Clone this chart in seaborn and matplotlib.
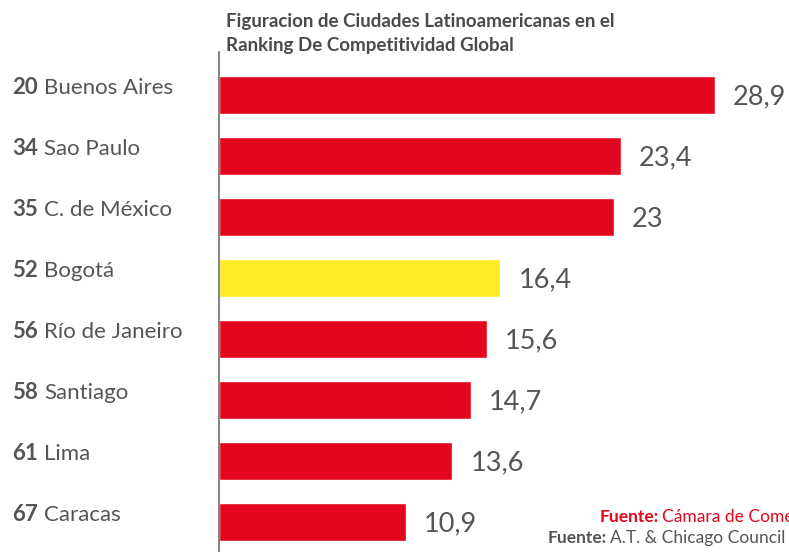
import matplotlib
matplotlib.use('Agg')
import matplotlib.pyplot as plt
import matplotlib.transforms as mtransforms
import seaborn as sns
import pandas as pd

# datos
ranking = [20, 34, 35, 52, 56, 58, 61, 67]
ciudades = ['Buenos Aires', 'Sao Paulo', 'C. de México', 'Bogotá',
            'Río de Janeiro', 'Santiago', 'Lima', 'Caracas']
valores = [28.9, 23.4, 23, 16.4, 15.6, 14.7, 13.6, 10.9]

rojo = '#E2061F'
amarillo = '#FFEC24'
gris_texto = '#555555'
gris_titulo = '#4A4A4A'
gris_linea = '#6E6E6E'
colores = [amarillo if c == 'Bogotá' else rojo for c in ciudades]

sns.set_theme(style='white')
plt.rcParams['font.family'] = ['Lato', 'DejaVu Sans']

df = pd.DataFrame({'ciudad': ciudades, 'valor': valores})

fig = plt.figure(figsize=(7.89, 5.52), dpi=100)
ax = fig.add_axes([219 / 789, 0, 1 - 219 / 789, 500 / 552])

sns.barplot(data=df, x='valor', y='ciudad', hue='ciudad', palette=colores,
            legend=False, width=0.62, ax=ax, saturation=1)

ax.set_xlim(0, 570 / 17.16)
ax.set_ylim(7.49, -0.705)
ax.set_xlabel('')
ax.set_ylabel('')
ax.set_xticks([])
ax.set_yticks([])
for lado in ['top', 'right', 'bottom']:
    ax.spines[lado].set_visible(False)
ax.spines['left'].set_color(gris_linea)
ax.spines['left'].set_linewidth(1.2)

# etiquetas de valor
for i, v in enumerate(valores):
    etiqueta = f'{v:g}'.replace('.', ',')
    ax.annotate(etiqueta, xy=(v, i), xytext=(18, -2), textcoords='offset pixels',
                va='center', ha='left', fontsize=19.5, color=gris_texto)

# etiquetas de ciudades (numero en negrita + nombre)
trans = mtransforms.blended_transform_factory(fig.transFigure, ax.transData)
for i, (r, c) in enumerate(zip(ranking, ciudades)):
    ax.text(12 / 789, i - 0.12, str(r), transform=trans, fontsize=16,
            fontweight='bold', color=gris_texto, va='center', ha='left')
    ax.text(44 / 789, i - 0.12, c, transform=trans, fontsize=16,
            color=gris_texto, va='center', ha='left')

# titulo
fig.text(226 / 789, 1 - 22 / 552, 'Figuracion de Ciudades Latinoamericanas en el',
         fontsize=13.5, fontweight='bold', color=gris_titulo, va='center', ha='left')
fig.text(226 / 789, 1 - 46 / 552, 'Ranking De Competitividad Global',
         fontsize=13.5, fontweight='bold', color=gris_titulo, va='center', ha='left')

# fuentes (cortadas en el borde como en el original)
fig.text(600 / 789, 1 - 517 / 552, 'Fuente:', fontsize=12.5, fontweight='bold',
         color=rojo, va='center', ha='left')
fig.text(662 / 789, 1 - 517 / 552, 'Cámara de Comercio', fontsize=12.5,
         color=rojo, va='center', ha='left')
fig.text(548 / 789, 1 - 538 / 552, 'Fuente:', fontsize=12.5, fontweight='bold',
         color=gris_texto, va='center', ha='left')
fig.text(610 / 789, 1 - 538 / 552, 'A.T. & Chicago Council', fontsize=12.5,
         color=gris_texto, va='center', ha='left')

fig.savefig('out.png', dpi=100)
